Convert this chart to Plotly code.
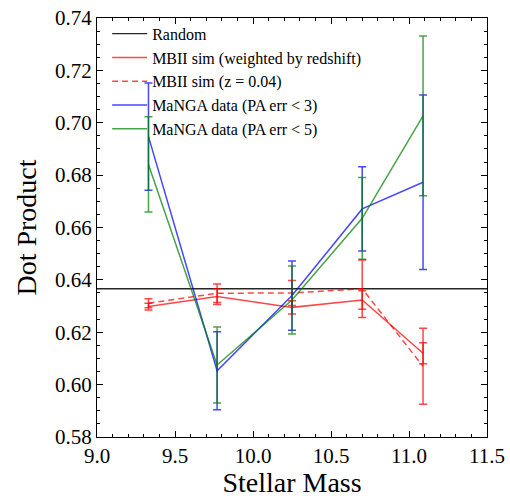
import plotly.graph_objects as go

# Stellar-mass bin centres
mass_bins = [9.33, 9.77, 10.25, 10.70, 11.09]

# MBII simulation, weighted by redshift
mbii_w = [0.6298, 0.6336, 0.6295, 0.6323, 0.6120]
mbii_w_err = [0.0013, 0.0030, 0.0025, 0.0035, 0.0040]

# MBII simulation at z = 0.04
mbii_z = [0.6311, 0.6349, 0.6350, 0.6366, 0.6070]
mbii_z_err = [0.0017, 0.0035, 0.0048, 0.0110, 0.0145]

# MaNGA data, PA err < 3
manga3 = [0.6947, 0.6053, 0.6340, 0.6671, 0.6773]
manga3_err = [0.0205, 0.0149, 0.0132, 0.0161, 0.0333]

# MaNGA data, PA err < 5
manga5 = [0.6841, 0.6075, 0.6323, 0.6635, 0.7026]
manga5_err = [0.0182, 0.0145, 0.0130, 0.0156, 0.0305]

# Expected dot product for random orientations
random_level = 0.6366
x_range = [9.0, 11.5]
y_range = [0.58, 0.74]

FONT = "Liberation Serif"
RED = "rgba(255,0,0,0.72)"
BLUE = "rgba(0,0,255,0.72)"
GREEN = "rgba(0,128,0,0.72)"

fig = go.Figure()

fig.add_trace(go.Scatter(
    x=x_range, y=[random_level, random_level], mode="lines",
    line=dict(color="rgba(0,0,0,0.85)", width=1.4), name="Random"))


def err_series(x, y, err, color, name, dash="solid"):
    return go.Scatter(
        x=x, y=y, mode="lines", name=name,
        line=dict(color=color, width=1.5, dash=dash),
        error_y=dict(type="data", array=err, visible=True,
                     color=color, thickness=1.5, width=4))


fig.add_trace(err_series(mass_bins, mbii_w, mbii_w_err, RED,
                         "MBII sim (weighted by redshift)"))
fig.add_trace(err_series(mass_bins, mbii_z, mbii_z_err, RED,
                         "MBII sim (z = 0.04)", dash="6px,4px"))
fig.add_trace(err_series(mass_bins, manga3, manga3_err, BLUE,
                         "MaNGA data (PA err < 3)"))
fig.add_trace(err_series(mass_bins, manga5, manga5_err, GREEN,
                         "MaNGA data (PA err < 5)"))

axis_common = dict(
    showgrid=False, zeroline=False, showline=True, linecolor="black",
    linewidth=1.2, mirror="allticks", ticks="inside", ticklen=6,
    tickwidth=1, tickcolor="black", automargin=False,
    tickfont=dict(family=FONT, size=21, color="black"),
)

fig.update_xaxes(
    range=x_range, dtick=0.5, tick0=9.0, tickformat=".1f",
    minor=dict(ticks="inside", ticklen=3, dtick=0.1, tickcolor="black"),
    title=dict(text="Stellar Mass", font=dict(family=FONT, size=28, color="black"),
               standoff=8),
    **axis_common)
fig.update_yaxes(
    range=y_range, dtick=0.02, tick0=0.58, tickformat=".2f",
    minor=dict(ticks="inside", ticklen=3, dtick=0.005, tickcolor="black"),
    title=dict(text="Dot Product", font=dict(family=FONT, size=28, color="black"),
               standoff=10),
    **axis_common)

fig.update_layout(
    width=510, height=498,
    margin=dict(l=97, r=23, t=18, b=61),
    paper_bgcolor="white", plot_bgcolor="white",
    showlegend=True,
    legend=dict(x=0.026, y=1.003, xanchor="left", yanchor="top",
                bgcolor="rgba(255,255,255,0)", borderwidth=0,
                font=dict(family=FONT, size=16, color="black"),
                tracegroupgap=0, itemwidth=35),
)

fig.write_html("out.html")
